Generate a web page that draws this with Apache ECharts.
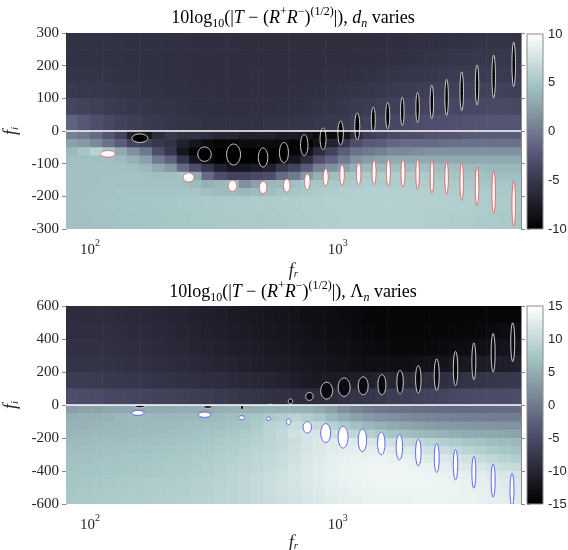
<!DOCTYPE html>
<html><head><meta charset="utf-8">
<script src="https://cdn.jsdelivr.net/npm/echarts@6/dist/echarts.min.js"></script>
<style>html,body{margin:0;padding:0;background:#fff}#c{width:568px;height:550px}</style>
</head><body><div id="c"></div>
<script>
// ---- data ----
// cell edges of the sampled field (fr: log-spaced, fi: rows)
const frEdges = [80,89,100,112,126,141,158,178,200,224,251,282,316,355,398,447,501,562,631,708,794,891,1000,1122,1259,1413,1585,1778,1995,2239,2512,2818,3162,3548,3981,4467,5012,5500];
const dnFiEdges = [300,250,200,150,100,50,0,-25,-50,-75,-100,-125,-150,-175,-200,-225,-250,-275,-300];
const lnFiEdges = [600,500,400,300,200,100,0,-50,-100,-150,-200,-250,-300,-350,-400,-450,-500,-550,-600];
// 10log10|T-(R+R-)^(1/2)| in dB, top panel (d_n varies), one row per fi band
const dnField = [
 [-5.5,-5.5,-5.5,-5.5,-5.5,-5.6,-5.6,-5.6,-5.7,-5.7,-5.8,-5.8,-5.8,-5.8,-5.9,-5.9,-5.9,-5.9,-5.9,-5.9,-5.9,-5.9,-5.9,-5.9,-5.9,-5.8,-5.8,-5.8,-5.7,-5.7,-5.6,-5.5,-5.5,-5.4,-5.3,-5.3,-5.4],
 [-5.5,-5.5,-5.5,-5.5,-5.5,-5.6,-5.6,-5.6,-5.7,-5.7,-5.8,-5.8,-5.8,-5.8,-5.9,-5.9,-5.9,-5.9,-5.9,-5.9,-5.9,-5.9,-5.9,-5.8,-5.8,-5.7,-5.7,-5.6,-5.5,-5.4,-5.3,-5.2,-5.1,-5.0,-5.0,-5.0,-5.1],
 [-5.3,-5.3,-5.4,-5.4,-5.5,-5.5,-5.6,-5.6,-5.7,-5.7,-5.8,-5.8,-5.8,-5.8,-5.8,-5.8,-5.8,-5.8,-5.8,-5.8,-5.8,-5.7,-5.7,-5.6,-5.5,-5.4,-5.3,-5.2,-5.1,-5.0,-4.9,-4.8,-4.7,-4.7,-4.7,-4.8,-4.9],
 [-4.9,-5.0,-5.1,-5.2,-5.3,-5.4,-5.5,-5.5,-5.6,-5.6,-5.7,-5.7,-5.8,-5.8,-5.8,-5.8,-5.8,-5.8,-5.7,-5.7,-5.6,-5.5,-5.4,-5.3,-5.2,-5.0,-4.9,-4.7,-4.6,-4.5,-4.4,-4.3,-4.3,-4.2,-4.2,-4.3,-4.4],
 [-3.8,-4.1,-4.4,-4.7,-4.9,-5.1,-5.2,-5.3,-5.4,-5.5,-5.6,-5.6,-5.7,-5.7,-5.7,-5.7,-5.7,-5.6,-5.6,-5.5,-5.4,-5.3,-5.1,-4.9,-4.7,-4.5,-4.3,-4.1,-4.0,-3.9,-3.8,-3.7,-3.6,-3.5,-3.5,-3.5,-3.6],
 [-1.5,-2.3,-3.0,-3.6,-4.1,-4.5,-4.8,-5.0,-5.2,-5.3,-5.4,-5.5,-5.5,-5.5,-5.5,-5.5,-5.4,-5.4,-5.3,-5.2,-5.1,-5.0,-4.8,-4.5,-4.2,-3.9,-3.6,-3.4,-3.2,-3.0,-2.9,-2.8,-2.7,-2.6,-2.5,-2.5,-2.5],
 [0.5,0,-1,-2.5,-4,-7,-8,-6,-5,-5.5,-5.5,-6,-6.5,-6.5,-7,-7,-7,-7.5,-7.5,-8,-9,-9,-8,-6,-4.5,-4,-3.5,-3,-3,-2.7,-2.5,-2.5,-2.2,-2,-2,-2,-2],
 [2.5,2,1,-0.5,-2,-4,-4.5,-5,-5.5,-7,-8,-9,-9.5,-9.5,-9,-9,-9,-9,-9.5,-10,-8.5,-7,-5,-3,-2.2,-2,-1.3,-1,-1,-1,-0.8,-0.7,-0.5,-0.5,-0.5,-0.5,-0.5],
 [4,5,6,5,3,1.5,0,-3,-5,-8,-9.5,-10,-10,-10,-10,-10,-10,-10,-9.5,-8.5,-6,-4,-2,-0.5,0,0.3,1,1,1.2,1.5,1.5,1.5,1.5,1.5,1.5,1.5,1.5],
 [4.5,4.5,4.5,4.5,4.2,3.5,2.5,0,-1.5,-5,-8,-9,-10,-10,-10,-10,-10,-9,-8,-6,-3,-1.5,0,1.5,2.2,2.5,3,3,3,3,3,3,3,3,3,3,3],
 [4.6,4.6,4.6,4.6,4.6,4.5,4,3,2,-1,-3,-5,-7,-8,-8,-7.5,-7,-5,-4,-2,0.5,1.5,2.5,3.5,4,4.2,4.5,4.5,4.5,4.5,4.5,4.5,4.3,4.2,4,4,4],
 [4.6,4.6,4.6,4.7,4.7,4.7,4.6,4.5,4.5,5,3,-1,-3,-4,-4,-3.5,-3,-1,0,2,3.5,4.5,4.8,5,5.3,5.5,5.5,5.5,5.5,5.3,5,5,4.8,4.6,4.5,4.5,4.5],
 [4.6,4.6,4.7,4.7,4.7,4.7,4.7,4.7,4.7,4.6,4.2,3.5,4,4.5,1.5,2.5,4,4,4.5,5,5,5.2,5.3,5.4,5.5,5.5,5.5,5.5,5.5,5.5,5.5,5.3,5.2,5,5,5,4.8],
 [4.6,4.6,4.7,4.7,4.8,4.8,4.8,4.8,4.8,4.8,4.8,4.5,4.3,4.3,4,4.2,4.5,4.8,5,5.2,5.4,5.5,5.6,5.7,5.7,5.7,5.7,5.7,5.7,5.6,5.6,5.5,5.5,5.4,5.3,5.2,5.0],
 [4.6,4.7,4.7,4.8,4.8,4.9,4.9,5.0,5.0,5.1,5.1,5.2,5.2,5.3,5.3,5.4,5.4,5.5,5.5,5.6,5.6,5.7,5.7,5.8,5.8,5.8,5.8,5.8,5.8,5.7,5.7,5.6,5.6,5.5,5.4,5.3,5.1],
 [4.6,4.7,4.7,4.8,4.8,4.9,4.9,5.0,5.0,5.1,5.1,5.2,5.2,5.3,5.3,5.4,5.4,5.5,5.5,5.6,5.6,5.7,5.7,5.8,5.8,5.8,5.8,5.8,5.8,5.7,5.7,5.6,5.6,5.5,5.4,5.3,5.1],
 [4.6,4.6,4.7,4.7,4.8,4.8,4.9,4.9,5.0,5.0,5.1,5.1,5.2,5.2,5.3,5.3,5.4,5.4,5.5,5.5,5.6,5.6,5.7,5.7,5.7,5.7,5.7,5.7,5.7,5.6,5.6,5.5,5.5,5.4,5.3,5.2,5.0],
 [4.6,4.6,4.7,4.7,4.8,4.8,4.9,4.9,5.0,5.0,5.1,5.1,5.2,5.2,5.3,5.3,5.4,5.4,5.5,5.5,5.6,5.6,5.7,5.7,5.7,5.7,5.7,5.7,5.7,5.6,5.6,5.5,5.5,5.4,5.3,5.2,5.0]
];
// bottom panel (Lambda_n varies)
const lnField = [
 [-9,-9,-9,-9.1,-9.2,-9.4,-9.5,-9.8,-10,-10.2,-10.5,-10.8,-11,-11.3,-11.5,-11.8,-12,-12.3,-12.5,-12.8,-13,-13.3,-13.5,-13.7,-14,-14,-14,-14.2,-14.2,-14.2,-14.2,-14.2,-14.2,-14.2,-14.2,-14.2,-14.2],
 [-8.8,-8.8,-8.8,-8.9,-9,-9.2,-9.3,-9.6,-9.8,-10,-10.3,-10.6,-10.8,-11.1,-11.3,-11.6,-11.8,-12.1,-12.3,-12.6,-12.8,-13.1,-13.3,-13.6,-13.8,-14,-14,-14,-14,-14,-14,-14,-13.9,-13.8,-13.6,-13.4,-13.2],
 [-8.5,-8.5,-8.5,-8.6,-8.7,-8.9,-9,-9.3,-9.5,-9.7,-10,-10.3,-10.5,-10.8,-11,-11.3,-11.5,-11.8,-12,-12.3,-12.5,-12.8,-13,-13.3,-13.5,-13.7,-13.8,-13.8,-13.8,-13.8,-13.6,-13.4,-13.2,-13,-12.7,-12.4,-12.2],
 [-8,-8,-8.1,-8.2,-8.3,-8.5,-8.6,-8.8,-9,-9.2,-9.5,-9.8,-10,-10.3,-10.5,-10.8,-11,-11.3,-11.5,-11.8,-12,-12.3,-12.5,-12.8,-13,-13,-13,-13,-12.8,-12.6,-12.3,-12,-11.7,-11.4,-11.1,-10.8,-10.5],
 [-7,-7.1,-7.2,-7.4,-7.5,-7.7,-7.8,-8,-8.2,-8.4,-8.6,-8.8,-9,-9.3,-9.5,-9.8,-10,-10.4,-10.8,-11.2,-11.5,-11.5,-11.3,-11,-10.7,-10.3,-10,-9.6,-9.3,-9,-8.7,-8.4,-8.1,-7.9,-7.7,-7.5,-7.4],
 [-4.5,-4.8,-5.1,-5.3,-5.5,-5.7,-5.9,-6.1,-6.3,-6.5,-6.8,-7,-7.3,-7.5,-7.8,-8,-8.3,-8.5,-8.8,-9,-9,-8.8,-8.5,-8.1,-7.8,-7.4,-7,-6.6,-6.3,-6,-5.7,-5.4,-5.2,-5,-4.9,-4.8,-4.7],
 [3.5,3.8,4,4.2,4.3,4.5,4.5,4.6,4.7,4.8,4.8,4.5,5,5.2,5.3,5.4,5.5,5.5,5.5,5.2,4.5,3.5,2,1,0.3,-0.3,-0.7,-1,-1.2,-1.4,-1.5,-1.5,-1.5,-1.5,-1.5,-1.5,-1.5],
 [5,5.2,5.4,5.6,6,6.2,6,5.8,5.8,5.9,6,6.2,6.3,6.5,7,7.5,8,8.5,9,8.5,7.5,6,4.8,3.8,3,2.5,2,1.6,1.3,1,0.8,0.6,0.5,0.4,0.3,0.3,0.3],
 [5.5,5.6,5.7,5.8,5.9,6,6.1,6.2,6.3,6.4,6.5,6.7,6.9,7.1,7.4,8,9,9.5,10.5,10.5,10,9,8,7,6,5.2,4.6,4.1,3.7,3.4,3.1,2.9,2.8,2.7,2.6,2.5,2.5],
 [5.8,5.9,6,6.1,6.2,6.3,6.4,6.5,6.6,6.8,7,7.2,7.4,7.7,8,8.5,9.2,10,11,11.5,11.5,11,10.3,9.6,8.8,8,7.3,6.7,6.2,5.8,5.4,5,4.8,4.6,4.4,4.2,4],
 [6.2,6.3,6.4,6.5,6.6,6.7,6.8,6.9,7,7.2,7.4,7.6,7.9,8.2,8.5,8.9,9.3,9.8,10.5,11.3,12,12.3,12.3,12.2,11.8,11.3,10.8,10.2,9.6,9,8.5,8,7.5,7,6.6,6.3,6],
 [6.5,6.6,6.7,6.8,6.9,7,7.1,7.2,7.4,7.5,7.7,7.9,8.2,8.5,8.8,9.2,9.6,10.1,10.7,11.3,11.9,12.4,12.7,12.9,12.9,12.7,12.4,12,11.5,11,10.4,9.8,9.2,8.6,8,7.5,7],
 [6.8,6.9,7,7.1,7.2,7.3,7.4,7.5,7.7,7.8,8,8.2,8.5,8.8,9.1,9.5,9.9,10.4,11,11.6,12.2,12.7,13,13.2,13.4,13.4,13.3,13.1,12.8,12.4,12,11.4,10.8,10.2,9.6,9,8.5],
 [7,7.1,7.2,7.3,7.4,7.5,7.6,7.7,7.9,8,8.2,8.4,8.7,9,9.3,9.7,10.1,10.6,11.2,11.8,12.4,12.9,13.2,13.4,13.6,13.6,13.6,13.5,13.3,13.1,12.8,12.4,12,11.5,11,10.5,10],
 [7.2,7.3,7.4,7.5,7.6,7.7,7.8,7.9,8.1,8.2,8.4,8.6,8.9,9.2,9.5,9.9,10.3,10.8,11.3,11.9,12.4,12.9,13.2,13.4,13.6,13.7,13.7,13.7,13.6,13.5,13.3,13.1,12.8,12.5,12.1,11.7,11.3],
 [7.4,7.5,7.6,7.7,7.8,7.9,8,8.1,8.3,8.4,8.6,8.8,9,9.3,9.6,10,10.4,10.8,11.3,11.8,12.3,12.8,13.1,13.3,13.5,13.6,13.7,13.7,13.7,13.6,13.5,13.4,13.2,12.9,12.6,12.3,12],
 [7.6,7.7,7.8,7.9,8,8.1,8.2,8.3,8.4,8.5,8.7,8.9,9.1,9.4,9.7,10,10.4,10.8,11.2,11.7,12.2,12.6,12.9,13.1,13.3,13.4,13.5,13.5,13.5,13.5,13.5,13.4,13.3,13.1,12.9,12.6,12.3],
 [7.7,7.8,7.9,8,8.1,8.2,8.3,8.4,8.5,8.6,8.8,9,9.2,9.4,9.7,10,10.3,10.7,11.1,11.5,12,12.4,12.7,12.9,13.1,13.2,13.3,13.3,13.4,13.4,13.4,13.3,13.2,13.1,12.9,12.7,12.4]
];
// contour ellipses: [fr centre, fi centre, half-width (decades of fr), half-height (fi)]
const dnMinima = [[5140,204,.007,68],[4266,167,.007,65],[3656,141,.007,61],[3170,122,.007,59],[2754,103,.007,55],[2400,89,.007,51],[2103,72,.007,46],[1824,60,.007,43],[1593,47,.008,40],[1393,35,.008,38],[1200,14,.01,41],[1028,-6,.011,36],[873,-24,.012,33],[733,-43,.015,32],[607,-66,.018,31],[500,-81,.019,29],[380,-72,.028,32],[290,-71,.027,22],[159,-22,.032,13]];
const dnMaxima = [[118,-70,.03,10],[250,-142,.022,14],[376,-168,.017,17],[500,-173,.015,19],[623,-167,.013,20],[754,-155,.011,24],[895,-142,.01,26],[1042,-134,.009,31],[1216,-131,.009,33],[1403,-127,.008,37],[1603,-128,.008,40],[1836,-130,.008,42],[2103,-132,.007,46],[2404,-140,.007,50],[2754,-144,.007,50],[3170,-155,.007,57],[3656,-169,.007,59],[4266,-188,.007,65],[5140,-223,.007,69]];
const lnMinima = [[5093,381,.008,117],[4245,316,.008,117],[3548,265,.008,111],[2992,221,.009,104],[2512,184,.01,95],[2117,156,.011,83],[1787,139,.013,71],[1509,123,.016,61],[1268,116,.02,54],[1062,108,.024,56],[903,87,.024,51],[769,52,.015,24],[645,22,.009,14],[535,2,.004,5],[411,-14,.006,14],[299,-12,.018,8],[159,-8,.02,8]];
const lnMaxima = [[156,-48,.025,15],[290,-59,.025,16],[409,-77,.012,12],[526,-83,.008,10],[634,-102,.009,17],[754,-135,.017,35],[895,-170,.02,57],[1052,-195,.02,66],[1259,-214,.017,68],[1500,-233,.015,69],[1775,-256,.013,76],[2117,-288,.011,81],[2512,-322,.01,87],[2992,-362,.009,91],[3548,-408,.008,96],[4245,-458,.008,100],[5058,-515,.008,100]];
const xTickValues = [90,100,200,300,400,500,600,700,800,900,1000,2000,3000,4000,5000];
const xLabelValues = [100,1000];
const zeroLine = [[80,0],[5500,0]];
const dnRange = [-10,10], lnRange = [-15,15];

// ---- build ----
const bone = ['#000000','#1c1c27','#38384d','#545474','#707a8f','#8ba1ab','#a7c7c7','#d3e3e3','#ffffff'];
function cells(field, fiEdges){
  const out=[];
  for(let r=0;r<field.length;r++) for(let c=0;c<field[r].length && c<frEdges.length-1;c++)
    out.push([frEdges[c],frEdges[c+1],fiEdges[r+1],fiEdges[r],field[r][c]]);
  return out;
}
function clipOf(p){const s=p.coordSys;return {type:'rect',shape:{x:s.x,y:s.y,width:s.width,height:s.height}};}
function cellItem(p, api){
  const a=api.coord([api.value(0),api.value(3)]), b=api.coord([api.value(1),api.value(2)]);
  return {type:'rect',shape:{x:a[0],y:a[1],width:b[0]-a[0]+0.6,height:b[1]-a[1]+0.6},
    style:{fill:api.visual('color')},clipPath:clipOf(p)};
}
function ellipseRender(stroke, fill){
  return function(p, api){
    const fr=api.value(0), fi=api.value(1), hw=api.value(2), hh=api.value(3);
    const pts=[];
    for(let k=0;k<48;k++){const t=2*Math.PI*k/48;pts.push(api.coord([fr*Math.pow(10,hw*Math.cos(t)),fi+hh*Math.sin(t)]));}
    return {type:'polygon',shape:{points:pts},style:{fill:fill,stroke:stroke,lineWidth:0.9},clipPath:clipOf(p)};
  };
}
const serif='Liberation Serif';
const axisGrey='#8a8a8a';
const nameRich={i:{fontFamily:serif,fontStyle:'italic',fontSize:18,color:'#262626',lineHeight:18,verticalAlign:'middle'},s:{fontFamily:serif,fontStyle:'italic',fontSize:11,color:'#262626',lineHeight:9,verticalAlign:'bottom'}};
function xAxes(gi, gap){
  const base={type:'log',logBase:10,min:80,max:5500,gridIndex:gi,splitLine:{show:false},
    axisLine:{show:true,lineStyle:{color:axisGrey}},
    axisTick:{show:true,length:3,customValues:xTickValues,lineStyle:{color:axisGrey}},minorTick:{show:false}};
  return [
    Object.assign({},base,{position:'bottom',
      axisLabel:{customValues:xLabelValues,margin:9,formatter:v=>'{b|10}{p|'+Math.round(Math.log10(v))+'}',
        rich:{b:{fontFamily:serif,fontSize:15,color:'#262626',lineHeight:20,verticalAlign:'bottom'},p:{fontFamily:serif,fontSize:10,color:'#262626',lineHeight:10,verticalAlign:'top'}}},
      name:'{i|f}{s|r}',nameLocation:'middle',nameGap:gap,nameTextStyle:{rich:nameRich}}),
    Object.assign({},base,{position:'top',axisLabel:{show:false}})
  ];
}
function yAxes(gi, lim, step){
  const base={type:'value',min:-lim,max:lim,interval:step,gridIndex:gi,splitLine:{show:false},
    axisLine:{show:true,lineStyle:{color:axisGrey}},axisTick:{show:true,length:4,lineStyle:{color:axisGrey}}};
  return [
    Object.assign({},base,{position:'left',axisLabel:{fontFamily:serif,fontSize:15,color:'#262626',margin:7},
      name:'{i|f}{s|i}',nameLocation:'middle',nameGap:36,nameTextStyle:{rich:nameRich}}),
    Object.assign({},base,{position:'right',axisLabel:{show:false}})
  ];
}
function cbAxes(gi, range, step){
  return {x:{type:'value',min:0,max:1,gridIndex:gi,show:false},
    y:{type:'value',min:range[0],max:range[1],interval:step,gridIndex:gi,position:'right',splitLine:{show:false},
      axisLine:{show:true,lineStyle:{color:axisGrey}},axisTick:{show:true,length:3,lineStyle:{color:axisGrey}},
      axisLabel:{fontFamily:'Liberation Sans',fontSize:13,color:'#262626',margin:5}}};
}
const cb1=cbAxes(2,dnRange,5), cb2=cbAxes(3,lnRange,5);
function cbSeries(xi, yi, range){
  return {type:'custom',xAxisIndex:xi,yAxisIndex:yi,silent:true,data:[[0,1,range[0],range[1]]],
    renderItem:function(p,api){
      const a=api.coord([0,range[1]]), b=api.coord([1,range[0]]);
      return {type:'rect',shape:{x:a[0],y:a[1],width:b[0]-a[0],height:b[1]-a[1]},
        style:{stroke:axisGrey,lineWidth:1,fill:{type:'linear',x:0,y:1,x2:0,y2:0,
          colorStops:bone.map((c,i)=>({offset:i/(bone.length-1),color:c}))}}};
    }};
}
const titleRich={n:{fontFamily:serif,fontSize:18,color:'#111',lineHeight:24,verticalAlign:'middle'},
  i:{fontFamily:serif,fontStyle:'italic',fontSize:18,color:'#111',lineHeight:24,verticalAlign:'middle'},
  s:{fontFamily:serif,fontSize:12,color:'#111',lineHeight:12,verticalAlign:'bottom'},
  si:{fontFamily:serif,fontStyle:'italic',fontSize:12,color:'#111',lineHeight:12,verticalAlign:'bottom'},
  p:{fontFamily:serif,fontSize:12,color:'#111',lineHeight:12,verticalAlign:'top'}};
const t1='{n|10log}{s|10}{n|(|}{i|T}{n| − (}{i|R}{p|+}{i|R}{p|−}{n|)}{p|(1/2)}{n||), }{i|d}{si|n}{n| varies}';
const t2='{n|10log}{s|10}{n|(|}{i|T}{n| − (}{i|R}{p|+}{i|R}{p|−}{n|)}{p|(1/2)}{n||), Λ}{si|n}{n| varies}';

const xa1=xAxes(0,33), xa2=xAxes(1,29), ya1=yAxes(0,300,100), ya2=yAxes(1,600,200);
const g={outerBoundsMode:'none',containLabel:false};
const option={
  animation:false,
  grid:[Object.assign({left:66,top:33,width:455,height:196},g),Object.assign({left:66,top:306,width:455,height:198},g),
        Object.assign({left:527,top:34,width:16,height:195},g),Object.assign({left:527,top:306,width:16,height:198},g)],
  xAxis:[xa1[0],xa1[1],xa2[0],xa2[1],cb1.x,cb2.x],
  yAxis:[ya1[0],ya1[1],ya2[0],ya2[1],cb1.y,cb2.y],
  visualMap:[
    {type:'continuous',show:false,seriesIndex:0,dimension:4,min:dnRange[0],max:dnRange[1],inRange:{color:bone}},
    {type:'continuous',show:false,seriesIndex:4,dimension:4,min:lnRange[0],max:lnRange[1],inRange:{color:bone}}
  ],
  graphic:[
    {type:'text',x:293,y:18,style:{text:t1,rich:titleRich,align:'center',verticalAlign:'middle'}},
    {type:'text',x:293,y:292,style:{text:t2,rich:titleRich,align:'center',verticalAlign:'middle'}}
  ],
  series:[
    {type:'custom',xAxisIndex:0,yAxisIndex:0,silent:true,data:cells(dnField,dnFiEdges),renderItem:cellItem},
    {type:'line',xAxisIndex:0,yAxisIndex:0,silent:true,data:zeroLine,symbol:'none',lineStyle:{color:'#ffffff',width:1.6}},
    {type:'custom',xAxisIndex:0,yAxisIndex:0,silent:true,data:dnMinima,renderItem:ellipseRender('#e6e6e6','#000000')},
    {type:'custom',xAxisIndex:0,yAxisIndex:0,silent:true,data:dnMaxima,renderItem:ellipseRender('#e0605f','#ffffff')},
    {type:'custom',xAxisIndex:2,yAxisIndex:2,silent:true,data:cells(lnField,lnFiEdges),renderItem:cellItem},
    {type:'line',xAxisIndex:2,yAxisIndex:2,silent:true,data:zeroLine,symbol:'none',lineStyle:{color:'#ffffff',width:1.6}},
    {type:'custom',xAxisIndex:2,yAxisIndex:2,silent:true,data:lnMinima,renderItem:ellipseRender('#e6e6e6','#0a0a10')},
    {type:'custom',xAxisIndex:2,yAxisIndex:2,silent:true,data:lnMaxima,renderItem:ellipseRender('#4a4ff0','#ffffff')},
    cbSeries(4,4,dnRange),
    cbSeries(5,5,lnRange)
  ]
};
echarts.init(document.getElementById('c'),null,{renderer:'canvas'}).setOption(option);
</script></body></html>
